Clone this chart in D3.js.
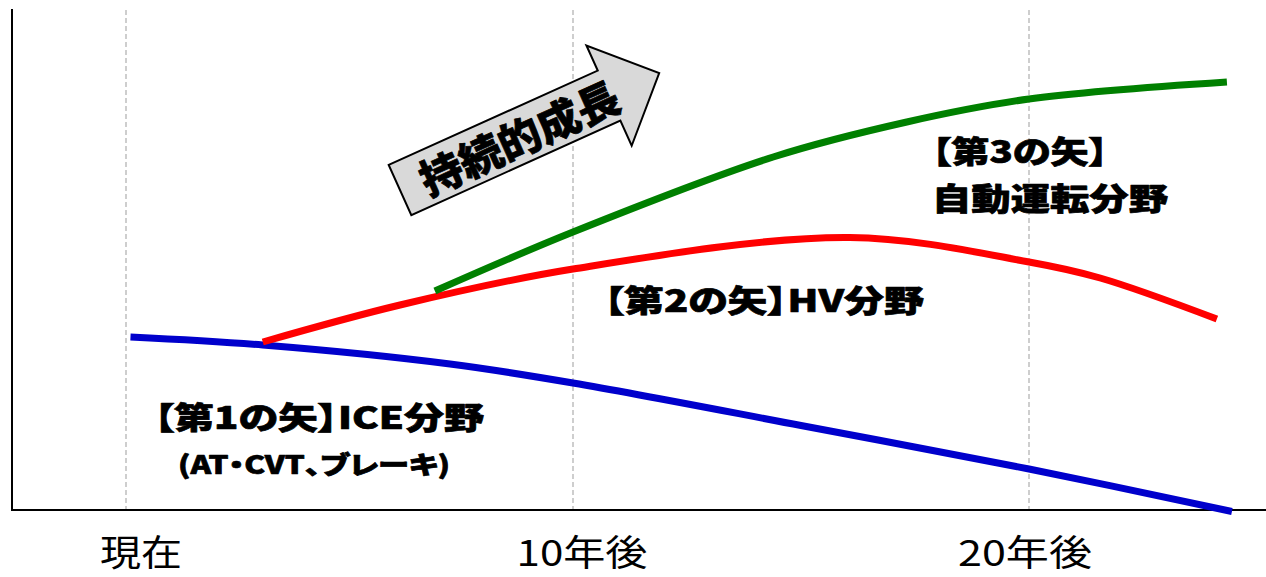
<!DOCTYPE html>
<html lang="ja">
<head>
<meta charset="utf-8">
<script src="https://cdn.jsdelivr.net/npm/d3@7"></script>
<style>
  html, body { margin: 0; padding: 0; background: #fff; }
  svg { display: block; }
  text { font-family: "Noto Sans CJK JP", "Noto Sans", sans-serif; }
  .lbl { font-weight: 900; font-feature-settings: "palt"; fill: #000;
         stroke: #000; stroke-width: 0.7px; stroke-linejoin: round; }
  .tick-lbl { font-weight: 400; fill: #000; }
</style>
</head>
<body>
<svg id="chart" width="1266" height="577"></svg>
<script>
// Time axis (years from now) and its tick labels
const tickYears = [0, 10, 20];
const tickLabels = ["現在", "10年後", "20年後"];

// 第1の矢: ICE分野 (declining)
const iceYears  = [0.1, 3.06, 7.25, 10, 15, 20, 24.45];
const iceValues = [34.6, 33.0, 29.2, 25.4, 16.9, 8.2, -0.3];

// 第2の矢: HV分野 (rise, peak, decline)
const hvYears  = [3.06, 6.13, 10, 16.07, 20, 21.56, 24.12];
const hvValues = [33.6, 41.0, 48.2, 54.5, 49.6, 46.4, 38.2];

// 第3の矢: 自動運転分野 (sustained growth)
const autoYears  = [6.91, 10, 14.39, 17.32, 20, 24.34];
const autoValues = [43.8, 55.6, 70.6, 77.6, 82.2, 85.6];

// "持続的成長" arrow, tail and tip in chart units
const arrowTail = [6.13, 64];
const arrowTip  = [11.89, 87.4];

const svg = d3.select("#chart");
const W = 1266, H = 577;
const axisLeft = 12, axisBottom = 510, plotTop = 9;

svg.append("rect").attr("width", W).attr("height", H).attr("fill", "#fff");

const x = d3.scaleLinear().domain([0, 10, 20]).range([126, 573, 1029]);
const y = d3.scaleLinear().domain([0, 100]).range([axisBottom, 10]);

// dashed vertical guides at each tick
svg.append("g").selectAll("line").data(tickYears).join("line")
  .attr("x1", d => x(d)).attr("x2", d => x(d))
  .attr("y1", 10).attr("y2", axisBottom)
  .attr("stroke", "#bfbfbf").attr("stroke-width", 1.5)
  .attr("stroke-dasharray", "5,3");

// axes
svg.append("line").attr("x1", axisLeft).attr("x2", axisLeft)
  .attr("y1", plotTop).attr("y2", axisBottom + 1)
  .attr("stroke", "#000").attr("stroke-width", 2);
svg.append("line").attr("x1", axisLeft).attr("x2", W)
  .attr("y1", axisBottom).attr("y2", axisBottom)
  .attr("stroke", "#000").attr("stroke-width", 2);

// tick labels (slight horizontal nudges for the text boxes)
const tickNudge = [15, 9, -4];
const tickWidth = [82, 131, 134];
svg.append("g").selectAll("text").data(tickYears).join("text")
  .attr("class", "tick-lbl")
  .attr("x", (d, i) => x(d) + tickNudge[i] - tickWidth[i] / 2)
  .attr("y", 566)
  .attr("font-size", 36)
  .attr("textLength", (d, i) => tickWidth[i])
  .attr("lengthAdjust", "spacingAndGlyphs")
  .text((d, i) => tickLabels[i]);

// series lines
const line = d3.line()
  .x(d => x(d[0])).y(d => y(d[1]))
  .curve(d3.curveCatmullRom.alpha(0.5));

const series = [
  { years: iceYears, values: iceValues, color: "#0000cc" },
  { years: hvYears, values: hvValues, color: "#ff0000" },
  { years: autoYears, values: autoValues, color: "#008000" }
];
svg.append("g").selectAll("path").data(series).join("path")
  .attr("d", s => line(s.years.map((yr, i) => [yr, s.values[i]])))
  .attr("fill", "none")
  .attr("stroke", s => s.color)
  .attr("stroke-width", 7);

// growth arrow
{
  const tx = x(arrowTail[0]), ty = y(arrowTail[1]);
  const px = x(arrowTip[0]),  py = y(arrowTip[1]);
  const len = Math.hypot(px - tx, py - ty);
  const ang = Math.atan2(py - ty, px - tx) * 180 / Math.PI;
  const shaftHalf = 27.5, headHalf = 55, headLen = 55;
  const b = len - headLen;
  const pts = [
    [0, -shaftHalf], [b, -shaftHalf], [b, -headHalf], [len, 0],
    [b, headHalf], [b, shaftHalf], [0, shaftHalf]
  ];
  const g = svg.append("g")
    .attr("transform", `translate(${tx},${ty}) rotate(${ang})`);
  g.append("polygon")
    .attr("points", pts.map(p => p.join(",")).join(" "))
    .attr("fill", "#d9d9d9").attr("stroke", "#000")
    .attr("stroke-width", 2).attr("stroke-linejoin", "miter");
  g.append("text").attr("class", "lbl")
    .attr("x", 130).attr("y", 18)
    .attr("text-anchor", "middle")
    .attr("font-size", 42)
    .attr("textLength", 214).attr("lengthAdjust", "spacingAndGlyphs")
    .text("持続的成長");
}

// series annotations
const labels = [
  { t: "【第1の矢】ICE分野", x: 154, y: 429, size: 31, w: 330 },
  { t: "(AT・CVT、ブレーキ)", x: 178, y: 474, size: 25, w: 272 },
  { t: "【第2の矢】HV分野", x: 604, y: 312, size: 31, w: 320 },
  { t: "【第3の矢】", x: 932, y: 163, size: 31, w: 176 },
  { t: "自動運転分野", x: 932, y: 210, size: 31, w: 236 }
];
svg.append("g").selectAll("text").data(labels).join("text")
  .attr("class", "lbl")
  .attr("x", d => d.x).attr("y", d => d.y)
  .attr("font-size", d => d.size)
  .attr("textLength", d => d.w)
  .attr("lengthAdjust", "spacingAndGlyphs")
  .text(d => d.t);
</script>
</body>
</html>
